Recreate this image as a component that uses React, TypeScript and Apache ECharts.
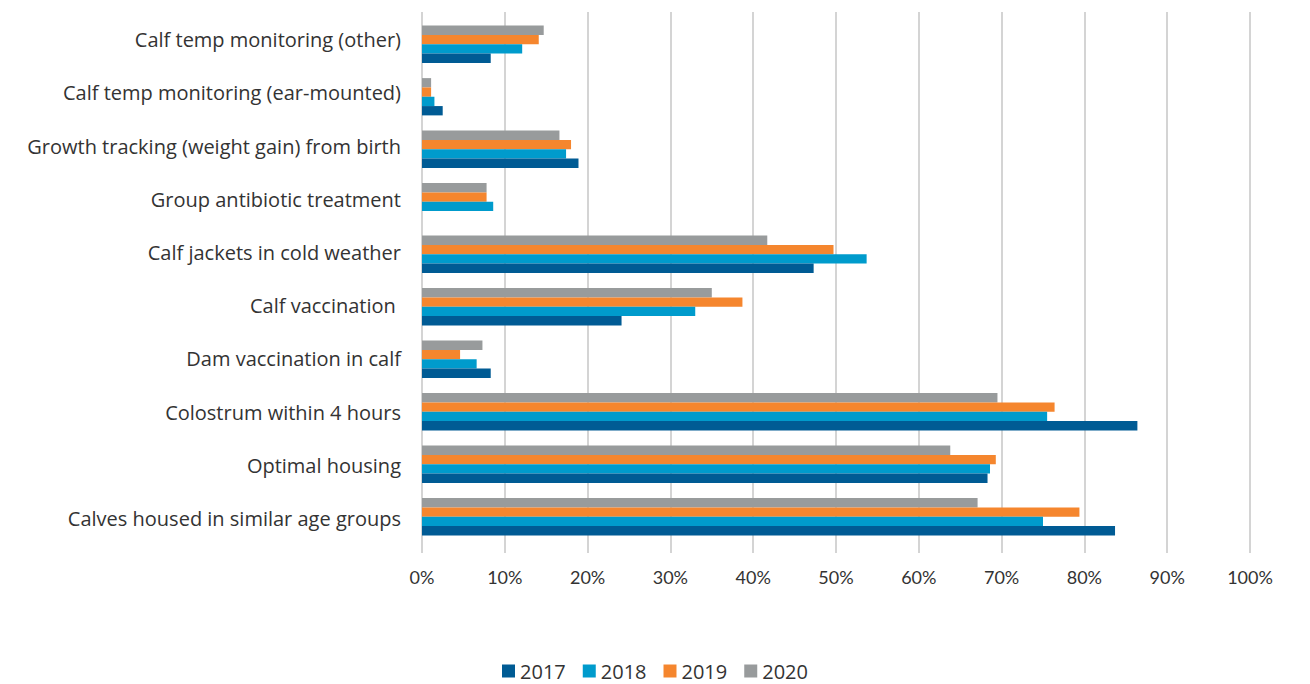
import React, { useEffect, useRef } from "react";
import * as echarts from "echarts";

const categories = [
  "Calves housed in similar age groups",
  "Optimal housing",
  "Colostrum within 4 hours",
  "Dam vaccination in calf",
  "Calf vaccination ",
  "Calf jackets in cold weather",
  "Group antibiotic treatment",
  "Growth tracking (weight gain) from birth",
  "Calf temp monitoring (ear-mounted)",
  "Calf temp monitoring (other)",
];

const years = ["2017", "2018", "2019", "2020"];

const values2017 = [83.7, 68.3, 86.4, 8.3, 24.1, 47.3, null, 18.9, 2.5, 8.3];
const values2018 = [75.0, 68.6, 75.5, 6.6, 33.0, 53.7, 8.6, 17.4, 1.5, 12.1];
const values2019 = [79.4, 69.3, 76.4, 4.6, 38.7, 49.7, 7.8, 18.0, 1.1, 14.1];
const values2020 = [67.1, 63.8, 69.5, 7.3, 35.0, 41.7, 7.8, 16.6, 1.1, 14.7];

const colors: Record<string, string> = {
  "2017": "#005b94",
  "2018": "#009bcc",
  "2019": "#f5862e",
  "2020": "#989b9c",
};

const seriesData: Record<string, (number | null)[]> = {
  "2017": values2017,
  "2018": values2018,
  "2019": values2019,
  "2020": values2020,
};

export default function App() {
  const ref = useRef<HTMLDivElement>(null);
  useEffect(() => {
    document.body.style.margin = "0";
    if (!ref.current) return;
    const chart = echarts.init(ref.current, null, { renderer: "svg" });
    const font = "'Open Sans', 'Noto Sans', sans-serif";
    const tickFont = "Lato, 'Noto Sans', sans-serif";
    const orderTopToBottom = ["2020", "2019", "2018", "2017"];
    chart.setOption({
      animation: false,
      textStyle: { fontFamily: font },
      grid: [
        { left: 422, right: 60, top: 18, bottom: 141 },
        { left: 422, right: 60, top: 12, bottom: 131 },
        { left: 422, right: 60, top: 13, bottom: 139 },
      ],
      xAxis: [
        {
          gridIndex: 0,
          type: "value",
          min: 0,
          max: 100,
          interval: 10,
          show: false,
          splitLine: { show: false },
        },
        {
          gridIndex: 1,
          type: "value",
          min: 0,
          max: 100,
          interval: 10,
          axisLine: { show: false },
          axisTick: { show: false },
          axisLabel: {
            formatter: "{value}%",
            color: "#333",
            fontSize: 18,
            margin: 15,
            fontFamily: tickFont,
          },
          splitLine: { show: true, lineStyle: { color: "#d4d4d4", width: 2 } },
        },
        {
          gridIndex: 2,
          type: "value",
          min: 0,
          max: 100,
          show: false,
        },
      ],
      yAxis: [
        {
          gridIndex: 0,
          type: "category",
          data: categories,
          show: false,
        },
        {
          gridIndex: 1,
          type: "category",
          data: categories,
          show: false,
        },
        {
          gridIndex: 2,
          type: "category",
          data: categories,
          axisLine: { show: false },
          axisTick: { show: false },
          splitLine: { show: false },
          axisLabel: {
            color: "#333",
            fontSize: 20,
            margin: 21,
            fontFamily: font,
          },
        },
      ],
      legend: {
        data: years,
        bottom: -2,
        left: "center",
        icon: "rect",
        itemWidth: 13,
        itemHeight: 13,
        itemGap: 17,
        textStyle: { color: "#333", fontSize: 20, fontFamily: font },
      },
      series: orderTopToBottom.map((y) => ({
        name: y,
        type: "bar",
        xAxisIndex: 0,
        yAxisIndex: 0,
        data: seriesData[y],
        itemStyle: { color: colors[y] },
        barGap: "0%",
        barCategoryGap: "29%",
      })),
    });
    return () => chart.dispose();
  }, []);
  return <div ref={ref} style={{ width: 1310, height: 684 }} />;
}
